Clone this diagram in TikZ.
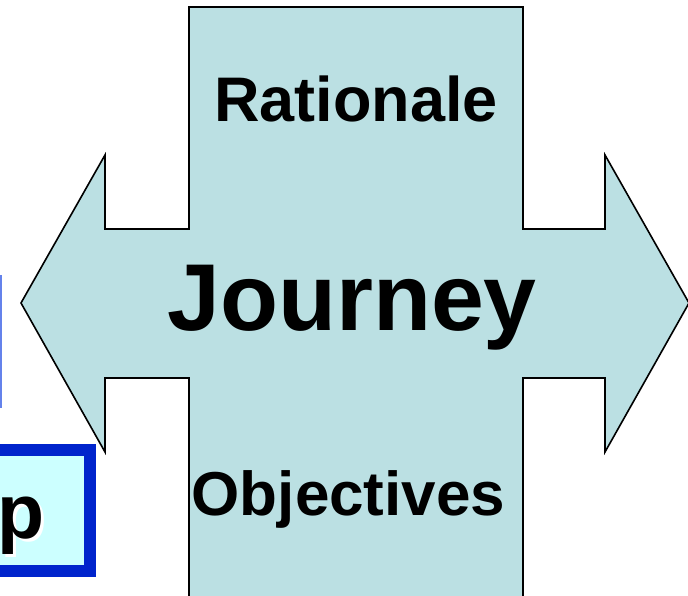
\documentclass[tikz,border=0pt]{standalone}
\usepackage{fontspec}
\setmainfont{Liberation Sans}
\definecolor{arrowfill}{RGB}{187,224,227}
\definecolor{boxfill}{RGB}{204,255,255}
\definecolor{boxblue}{RGB}{0,36,204}
\definecolor{edgeblue}{RGB}{100,130,235}
\tikzset{
  crossshape/.style={draw=black, fill=arrowfill, line width=1.6pt, line join=miter},
  lbl/.style={anchor=base, inner sep=0pt, font=\bfseries},
  bluebox/.style={draw=boxblue, fill=boxfill, line width=12pt}
}
\begin{document}
\begin{tikzpicture}[x=1pt,y=-1pt]
\useasboundingbox (0,0) rectangle (688,596);
\clip (0,0) rectangle (688,596);
% partial blue box at left edge
\fill[edgeblue] (-5,275) rectangle (1.5,408);
% cross / double arrow
\draw[crossshape] (189,7) -- (523,7) -- (523,229) -- (605,229) -- (605,155)
  -- (689,303) -- (605,452) -- (605,378) -- (523,378) -- (523,610)
  -- (189,610) -- (189,378) -- (105,378) -- (105,452) -- (21,303)
  -- (105,155) -- (105,229) -- (189,229) -- cycle;
% labels
\node[lbl, font=\bfseries\fontsize{63}{70}\selectfont] (rat) at (356,122) {Rationale};
\node[lbl, font=\bfseries\fontsize{95}{100}\selectfont] (jou) at (352,330) {Journey};
\node[lbl, font=\bfseries\fontsize{62}{70}\selectfont] (obj) at (348.5,515) {Objectives};
% blue box with "p"
\draw[bluebox] (-20,450) rectangle (90,571);
\node[lbl, anchor=base west, text=white, font=\bfseries\fontsize{77}{80}\selectfont] (pshadow) at (0,541) {p};
\node[lbl, anchor=base west, font=\bfseries\fontsize{77}{80}\selectfont] (ptext) at (-3,538) {p};
\end{tikzpicture}
\end{document}
